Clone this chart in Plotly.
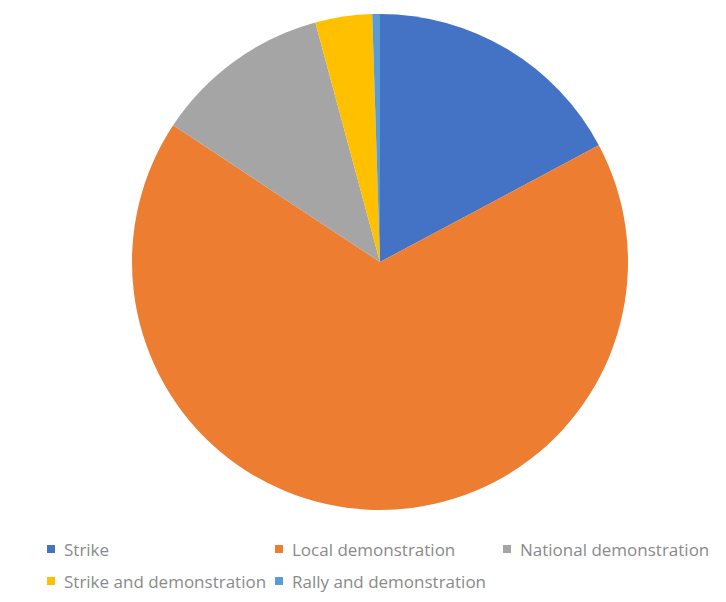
import plotly.graph_objects as go

# Share of actions by type (percent of all recorded actions)
labels = [
    "Strike",
    "Local demonstration",
    "National demonstration",
    "Strike and demonstration",
    "Rally and demonstration",
]
shares = [17.2, 67.1, 11.5, 3.7, 0.5]
colors = ["#4472C4", "#ED7D31", "#A5A5A5", "#FFC000", "#5B9BD5"]

W, H = 726, 602
M = dict(l=132, r=98, t=14, b=92)
PW = W - M["l"] - M["r"]
PH = H - M["t"] - M["b"]


def px_to_paper_x(px):
    return (px - M["l"]) / PW


def px_to_paper_y(py):
    return (M["t"] + PH - py) / PH


fig = go.Figure(
    go.Pie(
        labels=labels,
        values=shares,
        marker=dict(colors=colors, line=dict(width=0)),
        sort=False,
        direction="clockwise",
        rotation=0,
        textinfo="none",
        hovertemplate="%{label}: %{percent}<extra></extra>",
        showlegend=False,
    )
)

# Legend laid out as a three-column grid below the pie
col_x = [47, 275, 503]
row_y = [549, 581]
box = 8
shapes = []
annotations = []
for i, (lab, col) in enumerate(zip(labels, colors)):
    cx = col_x[i % 3]
    cy = row_y[i // 3]
    shapes.append(
        dict(
            type="rect",
            xref="paper",
            yref="paper",
            x0=px_to_paper_x(cx),
            x1=px_to_paper_x(cx + box),
            y0=px_to_paper_y(cy + box / 2),
            y1=px_to_paper_y(cy - box / 2),
            fillcolor=col,
            line=dict(width=0),
        )
    )
    annotations.append(
        dict(
            text=lab,
            xref="paper",
            yref="paper",
            x=px_to_paper_x(cx + box + 7),
            y=px_to_paper_y(cy),
            xanchor="left",
            yanchor="middle",
            showarrow=False,
            font=dict(family="Open Sans", size=17, color="#8a8a8a"),
        )
    )

fig.update_layout(
    width=W,
    height=H,
    margin=dict(**M, pad=0),
    paper_bgcolor="white",
    plot_bgcolor="white",
    shapes=shapes,
    annotations=annotations,
)

fig.write_html("out.html")
